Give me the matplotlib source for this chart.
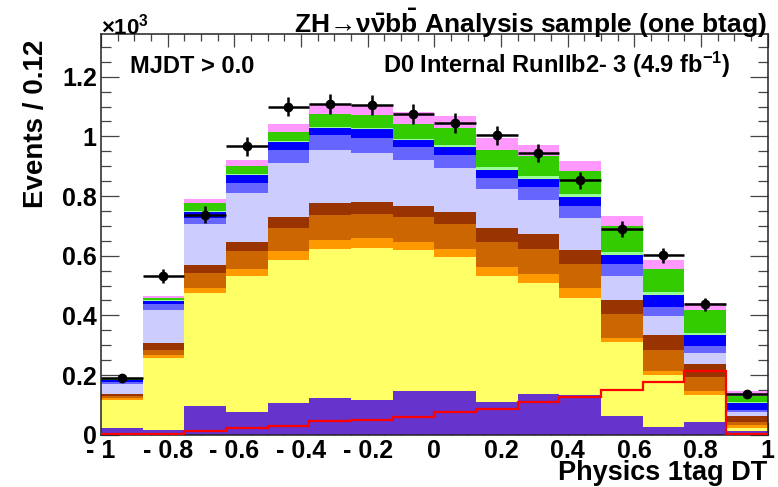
import numpy as np
import matplotlib
matplotlib.use('Agg')
import matplotlib.pyplot as plt
from matplotlib.ticker import MultipleLocator

plt.rcParams['font.family'] = ['Liberation Sans', 'DejaVu Sans']
plt.rcParams['font.weight'] = 'bold'
plt.rcParams['mathtext.fontset'] = 'custom'
plt.rcParams['mathtext.rm'] = 'Liberation Sans:bold'
plt.rcParams['mathtext.it'] = 'Liberation Sans:bold'
plt.rcParams['mathtext.bf'] = 'Liberation Sans:bold'

# 16 bins of the discriminant between -1 and 1
edges = np.linspace(-1, 1, 17)

# stacked background yields (events per bin), bottom of the stack first
violet = [21, 16, 95, 75, 105, 123, 116, 147, 147, 108, 136, 132, 64, 27, 41, 11]
yellow = [95, 240, 381, 457, 480, 501, 510, 471, 448, 424, 373, 327, 248, 174, 91, 13]
lt_orange = [6, 12, 17, 25, 30, 30, 32, 29, 29, 30, 28, 32, 13, 13, 15, 9]
dk_orange = [8, 16, 50, 58, 78, 84, 82, 82, 81, 83, 84, 80, 79, 69, 45, 11]
brown = [6, 25, 26, 32, 36, 39, 40, 39, 42, 48, 50, 47, 46, 50, 46, 20]
lavender = [34, 108, 136, 163, 182, 178, 164, 152, 147, 129, 115, 109, 82, 65, 37, 11]
mid_blue = [8, 22, 22, 34, 44, 48, 51, 45, 45, 40, 45, 41, 39, 30, 23, 8]
blue = [5, 9, 18, 26, 25, 24, 29, 22, 24, 25, 26, 30, 32, 40, 36, 22]
lt_green = [1, 3, 5, 5, 5, 5, 5, 5, 9, 10, 9, 9, 10, 10, 6, 3]
green = [2, 6, 25, 25, 31, 42, 41, 51, 56, 58, 67, 77, 86, 79, 77, 22]
pink = [4, 8, 15, 22, 26, 34, 33, 37, 39, 39, 37, 35, 33, 27, 25, 15]

# observed events and the overlaid red histogram
data = [190, 532, 738, 966, 1100, 1108, 1104, 1075, 1045, 1003, 944, 852, 690, 601, 437, 136]
red_hist = [4, 4, 13, 24, 30, 45, 49, 60, 75, 86, 111, 127, 149, 178, 214, 3]

layers = [
    (violet, '#6633cc'),
    (yellow, '#ffff66'),
    (lt_orange, '#ff9900'),
    (dk_orange, '#cc6600'),
    (brown, '#993300'),
    (lavender, '#ccccff'),
    (mid_blue, '#6666ff'),
    (blue, '#0000ff'),
    (lt_green, '#99ff99'),
    (green, '#33cc00'),
    (pink, '#ff99ff'),
]

fig = plt.figure(figsize=(7.78, 4.87), dpi=100)
ax = fig.add_axes([101 / 778, 1 - 434.7 / 487, 666.5 / 778, 400.7 / 487])

bottom = np.zeros(len(edges) - 1)
for vals, col in layers:
    top = bottom + np.asarray(vals) / 1000.0
    ax.stairs(top, edges, baseline=bottom, fill=True, color=col, lw=0.3, zorder=1)
    bottom = top

ax.stairs(np.asarray(red_hist) / 1000.0, edges, baseline=None, color='#ff0000', lw=1.6, zorder=3)

centers = 0.5 * (edges[1:] + edges[:-1])
d = np.asarray(data, dtype=float)
ax.errorbar(centers, d / 1000.0, xerr=np.diff(edges) / 2, yerr=np.sqrt(d) / 1000.0,
            fmt='o', color='black', ms=6, elinewidth=1.8, capsize=0, zorder=4)

ax.set_xlim(-1, 1)
ax.set_ylim(0, 1.343)
ax.set_axisbelow(True)

xt = [-1, -0.8, -0.6, -0.4, -0.2, 0, 0.2, 0.4, 0.6, 0.8, 1]
ax.set_xticks(xt)
ax.set_xticklabels(['- 1', '- 0.8', '- 0.6', '- 0.4', '- 0.2', '0', '0.2', '0.4', '0.6', '0.8', '1'])
ax.set_yticks([0, 0.2, 0.4, 0.6, 0.8, 1.0, 1.2])
ax.set_yticklabels(['0', '0.2', '0.4', '0.6', '0.8', '1', '1.2'])
ax.xaxis.set_minor_locator(MultipleLocator(0.05))
ax.yaxis.set_minor_locator(MultipleLocator(0.05))

ax.tick_params(which='both', direction='in', top=True, right=True, colors='#444444', width=0.9,
               labelcolor='black', labelsize=18)
ax.tick_params(axis='x', which='major', length=9.5, pad=3)
ax.tick_params(axis='x', which='minor', length=5)
ax.tick_params(axis='y', which='major', length=13, pad=3)
ax.tick_params(axis='y', which='minor', length=7)
for s in ax.spines.values():
    s.set_linewidth(1.1)
    s.set_color('#222222')

fig.text(101 / 778, 1 - 35 / 487, '×10$^{3}$', fontsize=16, ha='left', va='baseline')
fig.text(767 / 778, 1 - 33.5 / 487, 'ZH\u2192' + r'$\nu\bar{\nu}b\bar{b}$ Analysis sample (one btag)',
         fontsize=19, ha='right', va='baseline')
fig.text(130 / 778, 1 - 72.7 / 487, 'MJDT > 0.0', fontsize=17, ha='left', va='baseline')
fig.text(383 / 778, 1 - 72.7 / 487, 'D0 Internal RunIIb2- 3 (4.9 fb$^{-1}$)', fontsize=17,
         ha='left', va='baseline')
fig.text(43 / 778, 1 - 40 / 487, 'Events / 0.12', fontsize=20, rotation=90,
         rotation_mode='anchor', ha='right', va='baseline')
fig.text(767 / 778, 1 - 480.5 / 487, 'Physics 1tag DT', fontsize=19.5, ha='right', va='baseline')

fig.savefig('out.png', dpi=100)
